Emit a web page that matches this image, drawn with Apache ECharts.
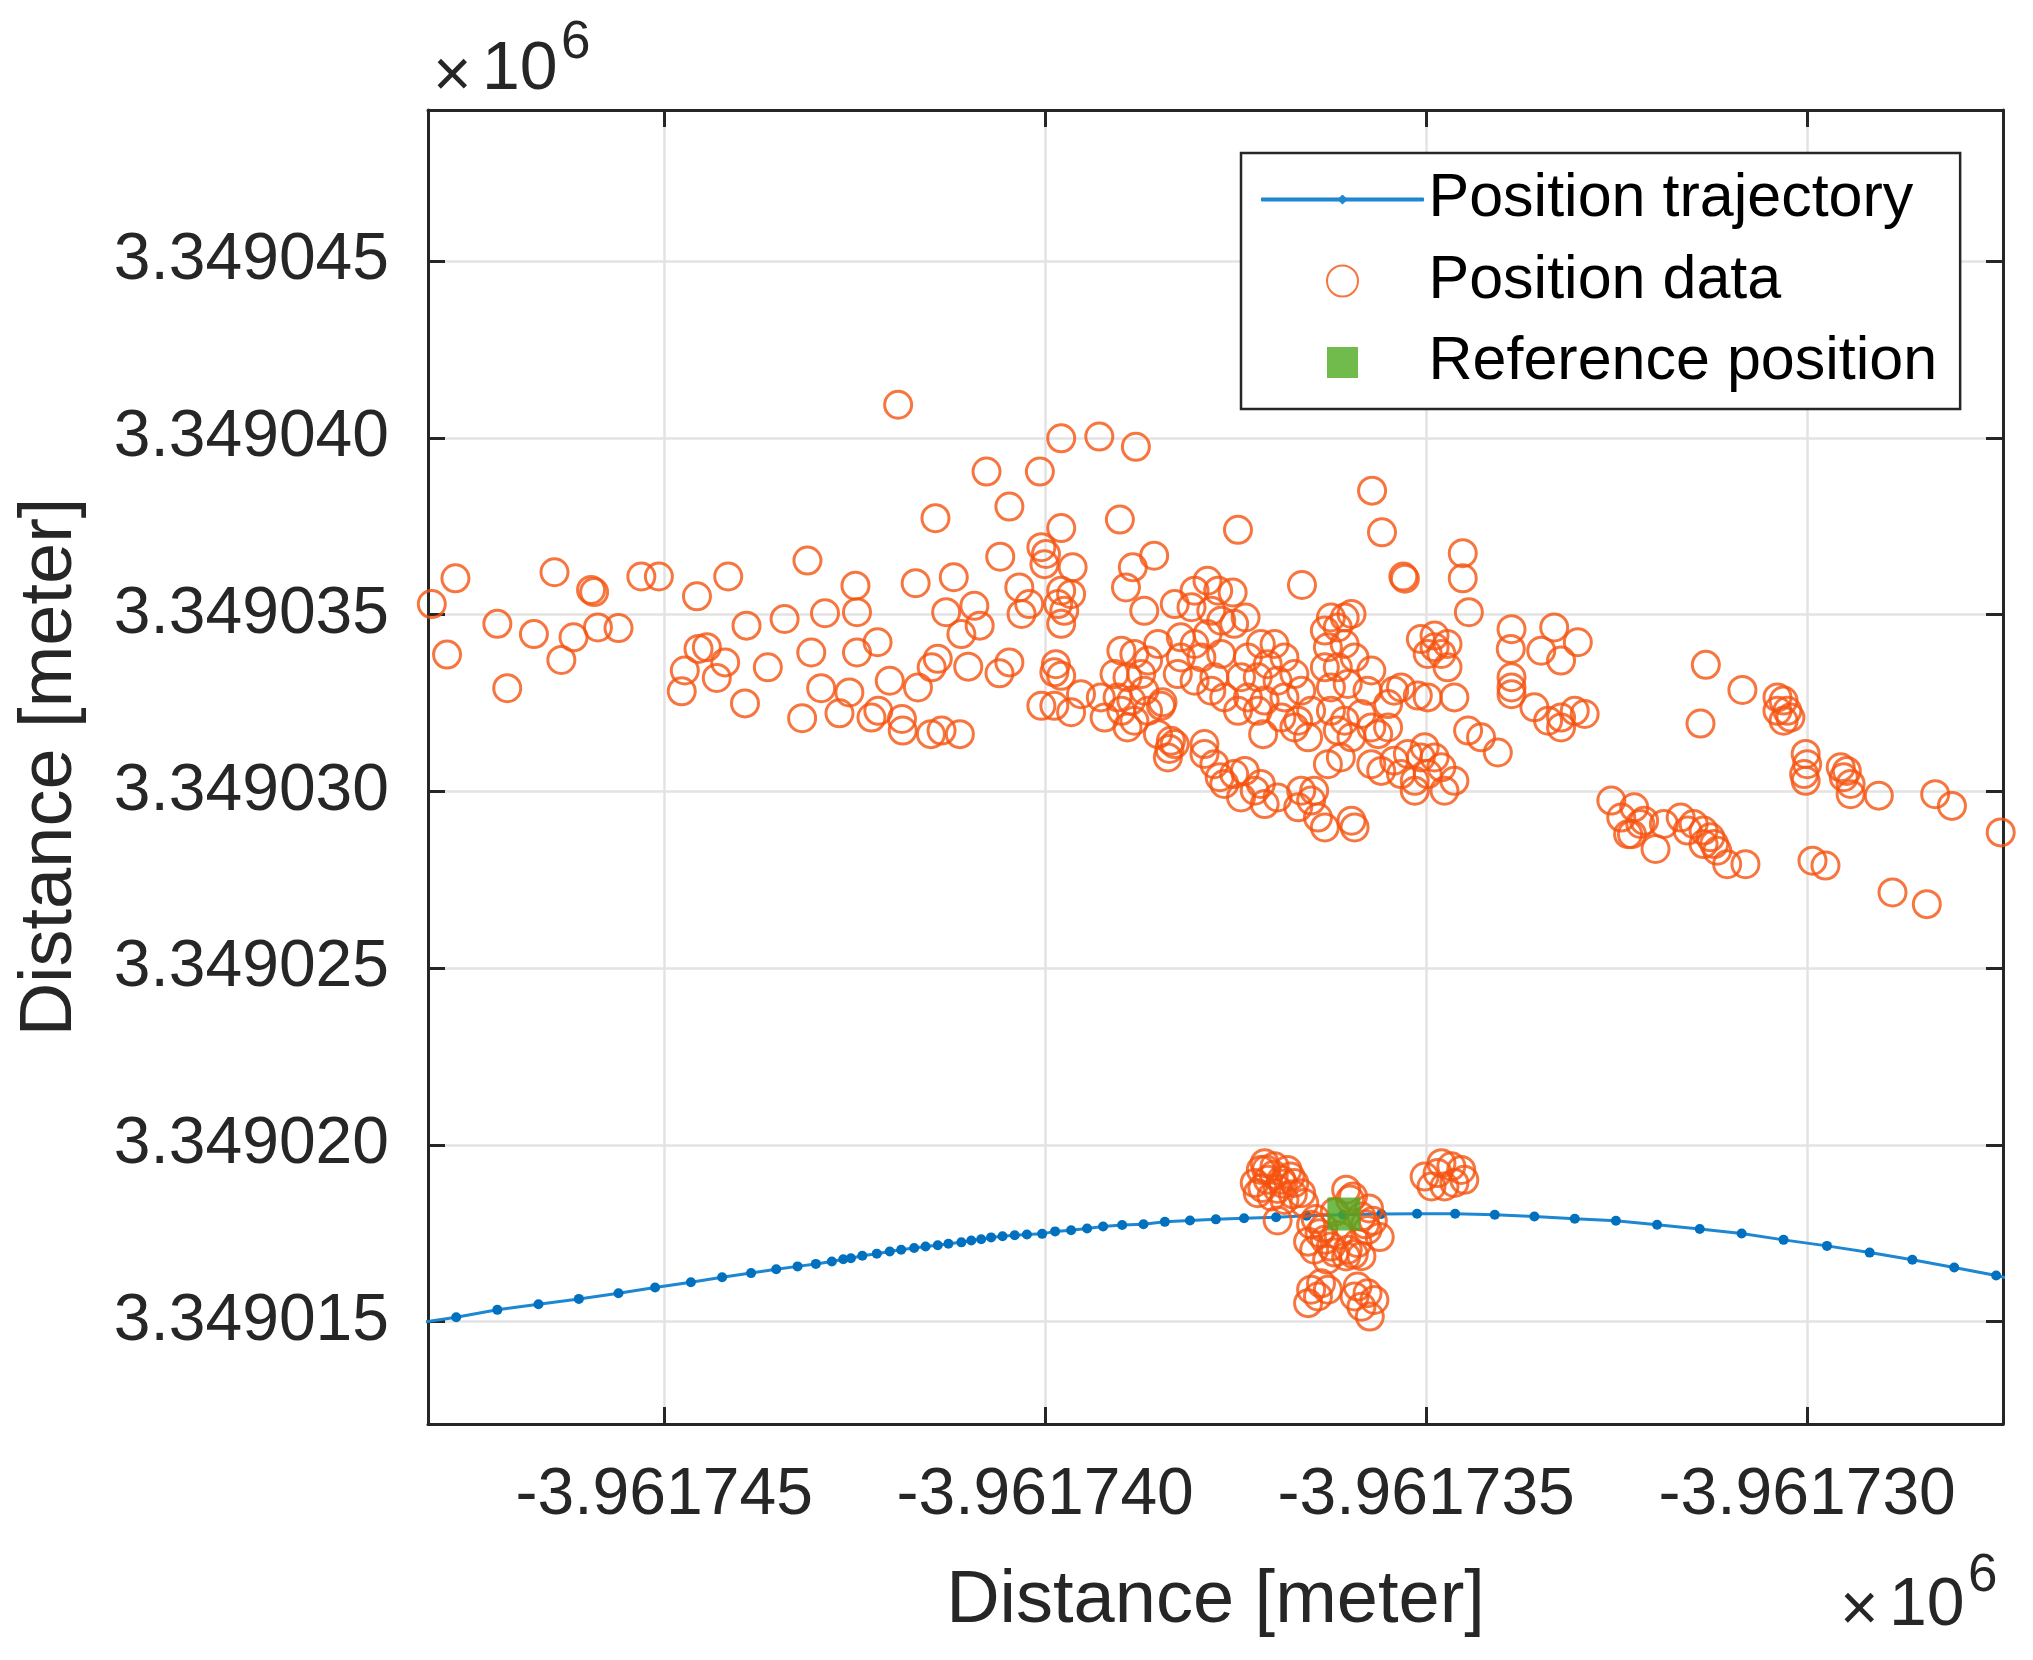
<!DOCTYPE html>
<html>
<head>
<meta charset="utf-8">
<title>Position trajectory</title>
<script src="https://cdn.jsdelivr.net/npm/echarts@6.0.0/dist/echarts.min.js"></script>
<style>
  html, body { margin: 0; padding: 0; background: #fff; }
  #main { width: 2033px; height: 1660px; }
</style>
</head>
<body>
<div id="main"></div>
<script>
var chartDom = document.getElementById('main');
var myChart = echarts.init(chartDom);
var option;

var FONT = '"Liberation Sans", Arial, sans-serif';
var INK = '#262626';

// all positions are offsets in metres from these origins
var X_ORIGIN = -3961700;
var Y_ORIGIN = 3349000;
var xRange = [-48.10, -27.43];
var yRange = [12.10, 49.28];

var trajectory = [
  [-48.27, 14.95], [-47.73, 15.12], [-47.19, 15.33], [-46.65, 15.49], [-46.12, 15.64],
  [-45.60, 15.80], [-45.12, 15.96], [-44.65, 16.11], [-44.24, 16.25], [-43.86, 16.37],
  [-43.53, 16.48], [-43.25, 16.56], [-43.01, 16.63], [-42.80, 16.70], [-42.65, 16.76],
  [-42.55, 16.79], [-42.40, 16.86], [-42.21, 16.92], [-42.04, 16.98], [-41.89, 17.03],
  [-41.72, 17.08], [-41.57, 17.12], [-41.41, 17.16], [-41.27, 17.20], [-41.10, 17.24],
  [-40.97, 17.29], [-40.84, 17.33], [-40.71, 17.38], [-40.56, 17.41], [-40.40, 17.44],
  [-40.24, 17.46], [-40.04, 17.48], [-39.87, 17.55], [-39.66, 17.58], [-39.45, 17.63],
  [-39.24, 17.69], [-38.99, 17.73], [-38.71, 17.75], [-38.43, 17.82], [-38.10, 17.86],
  [-37.76, 17.89], [-37.39, 17.92], [-36.97, 17.95], [-36.57, 17.99], [-36.09, 18.02],
  [-35.59, 18.04], [-35.12, 18.05], [-34.62, 18.05], [-34.10, 18.02], [-33.58, 17.97],
  [-33.05, 17.91], [-32.51, 17.85], [-31.97, 17.74], [-31.41, 17.62], [-30.86, 17.49],
  [-30.31, 17.31], [-29.74, 17.14], [-29.18, 16.95], [-28.62, 16.75], [-28.07, 16.53],
  [-27.52, 16.30], [-26.97, 16.05]
];

var positionData = [
  // left group
  [-48.05, 35.30], [-47.74, 36.03], [-46.44, 36.20], [-45.96, 35.70], [-45.92, 35.64],
  [-45.30, 36.08], [-45.07, 36.08], [-44.57, 35.52], [-44.16, 36.08], [-43.12, 36.53],
  [-42.89, 35.04], [-47.85, 33.87], [-47.19, 34.74], [-46.71, 34.45], [-46.19, 34.36],
  [-45.87, 34.64], [-45.60, 34.62], [-46.35, 33.72], [-47.06, 32.92], [-43.92, 34.69],
  [-43.42, 34.88], [-44.55, 34.03], [-44.44, 34.08], [-44.20, 33.65], [-44.73, 33.42],
  [-44.31, 33.21], [-44.77, 32.83], [-43.64, 33.51], [-43.94, 32.49], [-43.07, 33.93],
  [-42.94, 32.92], [-43.19, 32.07],
  // around -3.961740
  [-41.93, 40.94], [-39.79, 39.99], [-39.29, 40.04], [-38.81, 39.75], [-40.77, 39.05],
  [-40.07, 39.05], [-40.47, 38.06], [-41.44, 37.73], [-39.02, 37.69], [-39.79, 37.45],
  [-40.59, 36.64], [-40.05, 36.91], [-39.99, 36.72], [-40.01, 36.43], [-39.64, 36.34],
  [-38.57, 36.67], [-38.85, 36.34], [-38.94, 35.77], [-38.70, 35.11], [-42.49, 35.82],
  [-41.70, 35.89], [-41.20, 36.06], [-42.47, 35.07], [-40.34, 35.77], [-40.21, 35.30],
  [-40.31, 35.02], [-39.79, 35.68], [-39.66, 35.58], [-39.83, 35.30], [-39.75, 35.11],
  [-39.79, 34.74], [-41.30, 35.07], [-40.93, 35.25], [-40.86, 34.69], [-41.10, 34.45],
  [-42.20, 34.22], [-42.47, 33.93], [-41.41, 33.75], [-41.49, 33.51], [-41.01, 33.53],
  [-40.47, 33.65], [-40.60, 33.34], [-42.57, 32.80], [-42.04, 33.13], [-41.67, 32.94],
  [-42.70, 32.21], [-42.28, 32.09], [-42.19, 32.28], [-41.88, 32.05], [-41.87, 31.72],
  [-41.50, 31.62], [-41.36, 31.72], [-41.12, 31.62],
  [-39.86, 33.60], [-39.79, 33.27], [-39.88, 33.37], [-40.05, 32.42], [-39.88, 32.42],
  [-39.66, 32.24], [-39.53, 32.75], [-39.27, 32.66], [-39.22, 32.09],
  [-39.00, 33.98], [-38.83, 33.89], [-38.65, 33.70], [-38.52, 34.17], [-39.09, 33.32],
  [-38.92, 33.23], [-38.74, 33.32], [-39.05, 32.66], [-38.87, 32.57], [-38.70, 32.85],
  [-39.00, 32.28], [-38.83, 32.00], [-38.92, 31.81], [-38.65, 32.28], [-38.48, 32.42],
  [-38.46, 32.52], [-38.52, 31.62], [-38.35, 31.43], [-38.37, 31.20], [-38.39, 30.96],
  [-38.30, 31.34], [-37.91, 31.34], [-37.91, 31.06], [-37.78, 30.77], [-37.71, 30.40],
  [-37.65, 30.21],
  [-38.30, 35.30], [-38.04, 35.68], [-37.87, 35.96], [-37.73, 35.68], [-38.08, 35.21],
  [-37.82, 35.11], [-37.69, 34.83], [-38.22, 34.36], [-38.04, 34.17], [-37.87, 34.45],
  [-38.22, 33.79], [-37.95, 33.79], [-37.69, 33.89], [-38.26, 33.32], [-38.04, 33.13],
  [-37.78, 33.23], [-37.82, 32.85], [-37.65, 32.66],
  // around -3.961735
  [-35.71, 38.51], [-37.47, 37.40], [-35.58, 37.33], [-35.30, 36.08], [-35.28, 36.02],
  [-36.63, 35.84], [-34.52, 36.74], [-34.52, 36.03], [-34.44, 35.07], [-37.54, 35.63],
  [-37.37, 34.92], [-37.52, 34.74],
  [-37.17, 34.17], [-36.99, 34.17], [-37.34, 33.79], [-37.08, 33.60], [-36.86, 33.79],
  [-37.43, 33.23], [-37.21, 33.23], [-36.95, 33.13], [-36.73, 33.32], [-37.34, 32.66],
  [-37.12, 32.57], [-36.86, 32.66], [-36.64, 32.85], [-37.47, 32.28], [-37.21, 32.28],
  [-36.90, 32.09], [-36.68, 32.00], [-36.51, 32.28], [-37.14, 31.62], [-36.55, 31.53],
  [-36.73, 31.81],
  [-36.25, 34.92], [-36.07, 34.92], [-35.98, 35.02], [-36.33, 34.55], [-36.16, 34.64],
  [-36.29, 34.08], [-36.07, 34.17], [-36.33, 33.51], [-36.16, 33.51], [-35.94, 33.79],
  [-35.72, 33.42], [-36.25, 32.94], [-36.03, 33.04], [-35.77, 32.85], [-36.25, 32.28],
  [-36.07, 32.00], [-35.85, 32.19], [-36.16, 31.72], [-35.98, 31.53], [-35.72, 31.81],
  [-35.63, 31.62], [-35.50, 31.81], [-36.29, 30.77], [-36.12, 30.96], [-35.72, 30.77],
  [-35.59, 30.58], [-35.42, 32.85], [-35.33, 32.94], [-35.11, 32.71], [-34.98, 32.66],
  [-34.63, 32.66], [-35.50, 32.47],
  [-35.07, 34.31], [-34.89, 34.41], [-34.72, 34.17], [-34.98, 33.89], [-34.80, 33.89],
  [-34.72, 33.51], [-34.89, 34.08],
  [-35.42, 30.87], [-35.24, 31.06], [-35.07, 30.96], [-34.89, 30.96], [-35.33, 30.49],
  [-35.15, 30.30], [-34.98, 30.49], [-34.80, 30.68], [-35.15, 30.02], [-34.76, 30.02],
  [-34.63, 30.30], [-35.02, 31.25], [-34.45, 31.72], [-34.28, 31.53], [-34.06, 31.10],
  [-33.88, 34.59], [-33.89, 34.03], [-33.88, 33.23], [-33.88, 32.75], [-33.88, 32.94],
  [-33.49, 33.98], [-33.32, 34.64], [-33.01, 34.22], [-33.23, 33.70], [-33.58, 32.38],
  [-33.40, 32.00], [-33.23, 31.81], [-33.05, 32.28], [-32.92, 32.19], [-33.23, 32.09],
  [-37.52, 30.49], [-37.38, 30.58], [-37.43, 29.83], [-37.25, 30.02], [-37.12, 29.64],
  [-36.95, 29.83], [-36.64, 30.02], [-36.51, 29.74], [-36.42, 29.26], [-36.33, 28.98],
  [-35.98, 29.17], [-35.94, 28.98], [-36.68, 29.55], [-37.17, 30.21], [-36.47, 30.02],
  // right group
  [-32.57, 29.74], [-32.44, 29.26], [-32.35, 28.79],
  [-32.27, 29.55], [-32.19, 29.08], [-32.30, 28.79], [-32.14, 29.17], [-31.99, 28.37],
  [-31.88, 29.08], [-31.66, 29.26], [-31.57, 28.89], [-31.49, 29.08], [-31.36, 28.89],
  [-31.27, 28.70], [-31.22, 28.51], [-31.36, 28.51], [-31.18, 28.32], [-31.05, 27.94],
  [-30.81, 27.94], [-31.33, 33.58], [-30.85, 32.87], [-31.40, 31.92], [-30.39, 32.66],
  [-30.31, 32.57], [-30.26, 32.28], [-30.39, 32.28], [-30.31, 32.00], [-30.22, 32.09],
  [-30.02, 31.06], [-30.00, 30.77], [-30.04, 30.49], [-30.02, 30.30], [-29.56, 30.68],
  [-29.48, 30.58], [-29.43, 30.21], [-29.43, 29.92], [-29.52, 30.40], [-29.06, 29.88],
  [-28.32, 29.92], [-28.10, 29.59], [-27.46, 28.84], [-29.93, 28.04], [-29.76, 27.90],
  [-28.88, 27.14], [-28.43, 26.81],
  // lower cluster near the reference
  [-37.17, 19.29], [-36.99, 19.39], [-36.82, 19.29], [-37.08, 19.01], [-36.90, 19.01],
  [-36.73, 18.92], [-37.21, 18.63], [-37.03, 18.54], [-36.86, 18.44], [-36.64, 18.63],
  [-36.60, 18.35], [-37.25, 18.92], [-37.12, 19.48], [-36.95, 17.86], [-37.00, 19.15],
  [-36.78, 19.10], [-37.15, 18.78], [-36.95, 18.75], [-36.75, 18.60], [-37.10, 19.30],
  [-36.88, 18.90],
  [-36.05, 18.73], [-35.96, 18.54], [-36.51, 17.74], [-36.55, 17.26], [-36.33, 17.31],
  [-36.47, 17.03], [-35.85, 17.97], [-35.77, 17.59], [-35.61, 17.39], [-36.03, 17.03],
  [-35.90, 17.22], [-36.25, 17.12], [-36.05, 16.84], [-36.15, 17.45], [-36.40, 17.50],
  [-35.80, 17.75], [-36.20, 18.10], [-36.00, 18.45], [-36.45, 17.90], [-36.35, 17.65],
  [-35.75, 18.20], [-35.70, 17.85], [-36.20, 16.95], [-35.95, 16.90], [-36.30, 16.75],
  [-35.85, 16.85],
  [-36.51, 15.90], [-36.38, 16.08], [-36.55, 15.52], [-36.42, 15.71], [-36.29, 15.90],
  [-35.90, 15.99], [-35.94, 15.71], [-35.77, 15.80], [-35.68, 15.61], [-35.85, 15.42],
  [-35.74, 15.14],
  [-35.02, 19.10], [-34.85, 19.20], [-34.67, 19.39], [-34.54, 19.29], [-34.93, 18.82],
  [-34.76, 18.82], [-34.63, 18.92], [-34.50, 19.01], [-34.80, 19.48]
];

var referencePosition = [-36.08, 18.04];

var seriesNames = ['Position trajectory', 'Position data', 'Reference position'];
var xTickStep = 5;
var yTickStep = 5;

function toMetres(p) {
  return [X_ORIGIN + p[0], Y_ORIGIN + p[1]];
}

function tickText(v) {
  return (v / 1e6).toFixed(6);
}

// line with a dot, like the matlab legend sample
var TRAJ_ICON = 'path://M0,14.5L160,14.5L160,17.5L0,17.5Z M80,11.5L84.5,16L80,20.5L75.5,16Z';
// plain square, 'rect' would stretch over the whole item width
var SQUARE_ICON = 'path://M0,0L10,0L10,10L0,10Z';

function frameAxis(pos, range, origin, step) {
  return {
    type: 'value',
    position: pos,
    min: origin + range[0],
    max: origin + range[1],
    minInterval: step,
    maxInterval: step,
    axisLine: { show: true, onZero: false, lineStyle: { color: INK, width: 3 } },
    axisTick: { show: true, inside: true, length: 17, lineStyle: { color: INK, width: 3 } },
    axisLabel: { show: false },
    splitLine: { show: false }
  };
}

var xMain = frameAxis('bottom', xRange, X_ORIGIN, xTickStep);
xMain.name = 'Distance [meter]';
xMain.nameLocation = 'middle';
xMain.nameGap = 141;
xMain.nameTextStyle = { fontSize: 74, color: INK, fontFamily: FONT };
xMain.axisLabel = {
  show: true, fontSize: 66, color: INK, fontFamily: FONT, margin: 39,
  formatter: tickText, showMinLabel: false, showMaxLabel: false
};
xMain.splitLine = { show: true, lineStyle: { color: '#e3e3e3', width: 2.5 } };

var yMain = frameAxis('left', yRange, Y_ORIGIN, yTickStep);
yMain.name = 'Distance [meter]';
yMain.nameLocation = 'middle';
yMain.nameGap = 340;
yMain.nameTextStyle = { fontSize: 74, color: INK, fontFamily: FONT };
yMain.axisLabel = {
  show: true, fontSize: 66, color: INK, fontFamily: FONT, margin: 39,
  formatter: tickText, showMinLabel: false, showMaxLabel: false
};
yMain.splitLine = { show: true, lineStyle: { color: '#e3e3e3', width: 2.5 } };

function expo(x, y10, y6, y0) {
  return [
    { type: 'text', x: x - 4, y: y0, style: { text: '\u00d7', fontSize: 66, fontFamily: FONT, fill: INK, verticalAlign: 'middle' } },
    { type: 'text', x: x + 45, y: y10, style: { text: '10', fontSize: 68, fontFamily: FONT, fill: INK, verticalAlign: 'middle' } },
    { type: 'text', x: x + 124, y: y6, style: { text: '6', fontSize: 53, fontFamily: FONT, fill: INK, verticalAlign: 'middle' } }
  ];
}

option = {
  animation: false,
  backgroundColor: '#fff',
  grid: {
    left: 428, right: 30, top: 110, bottom: 236,
    outerBoundsMode: 'none',
    containLabel: false
  },
  xAxis: [xMain, frameAxis('top', xRange, X_ORIGIN, xTickStep)],
  yAxis: [yMain, frameAxis('right', yRange, Y_ORIGIN, yTickStep)],
  legend: {
    orient: 'vertical',
    left: 1241,
    top: 153,
    padding: [16, 23, 16, 20],
    itemGap: 20.5,
    itemWidth: 162,
    itemHeight: 31,
    backgroundColor: '#fff',
    borderColor: INK,
    borderWidth: 2.5,
    borderRadius: 0,
    selectedMode: false,
    textStyle: { fontSize: 61, color: '#000', fontFamily: FONT, lineHeight: 61 },
    data: [
      { name: seriesNames[0], icon: TRAJ_ICON, itemStyle: { color: '#1d87d2', borderColor: '#1d87d2', borderWidth: 1 } },
      { name: seriesNames[1] },
      { name: seriesNames[2], icon: SQUARE_ICON }
    ]
  },
  graphic: expo(437, 70, 43, 78).concat(expo(1844, 1606, 1576, 1612)),
  series: [{
    name: seriesNames[0],
    type: 'line',
    xAxisIndex: 0,
    yAxisIndex: 0,
    data: trajectory.map(toMetres),
    clip: true,
    symbol: 'circle',
    symbolSize: 10,
    showSymbol: true,
    color: '#0070bf',
    itemStyle: { color: '#0070bf', borderWidth: 0 },
    lineStyle: { color: '#1d87d2', width: 3 },
    emphasis: { disabled: true },
    z: 2
  }, {
    name: seriesNames[1],
    type: 'scatter',
    xAxisIndex: 0,
    yAxisIndex: 0,
    data: positionData.map(toMetres),
    clip: true,
    symbol: 'circle',
    symbolSize: 27,
    itemStyle: { color: 'transparent', borderColor: '#f5520f', borderWidth: 3 },
    emphasis: { disabled: true },
    z: 3
  }, {
    name: seriesNames[2],
    type: 'scatter',
    xAxisIndex: 0,
    yAxisIndex: 0,
    data: [toMetres(referencePosition)],
    symbol: 'rect',
    symbolSize: 33,
    itemStyle: { color: '#4daa1f', borderWidth: 0 },
    emphasis: { disabled: true },
    z: 4
  }]
};

option && myChart.setOption(option);
</script>
</body>
</html>
